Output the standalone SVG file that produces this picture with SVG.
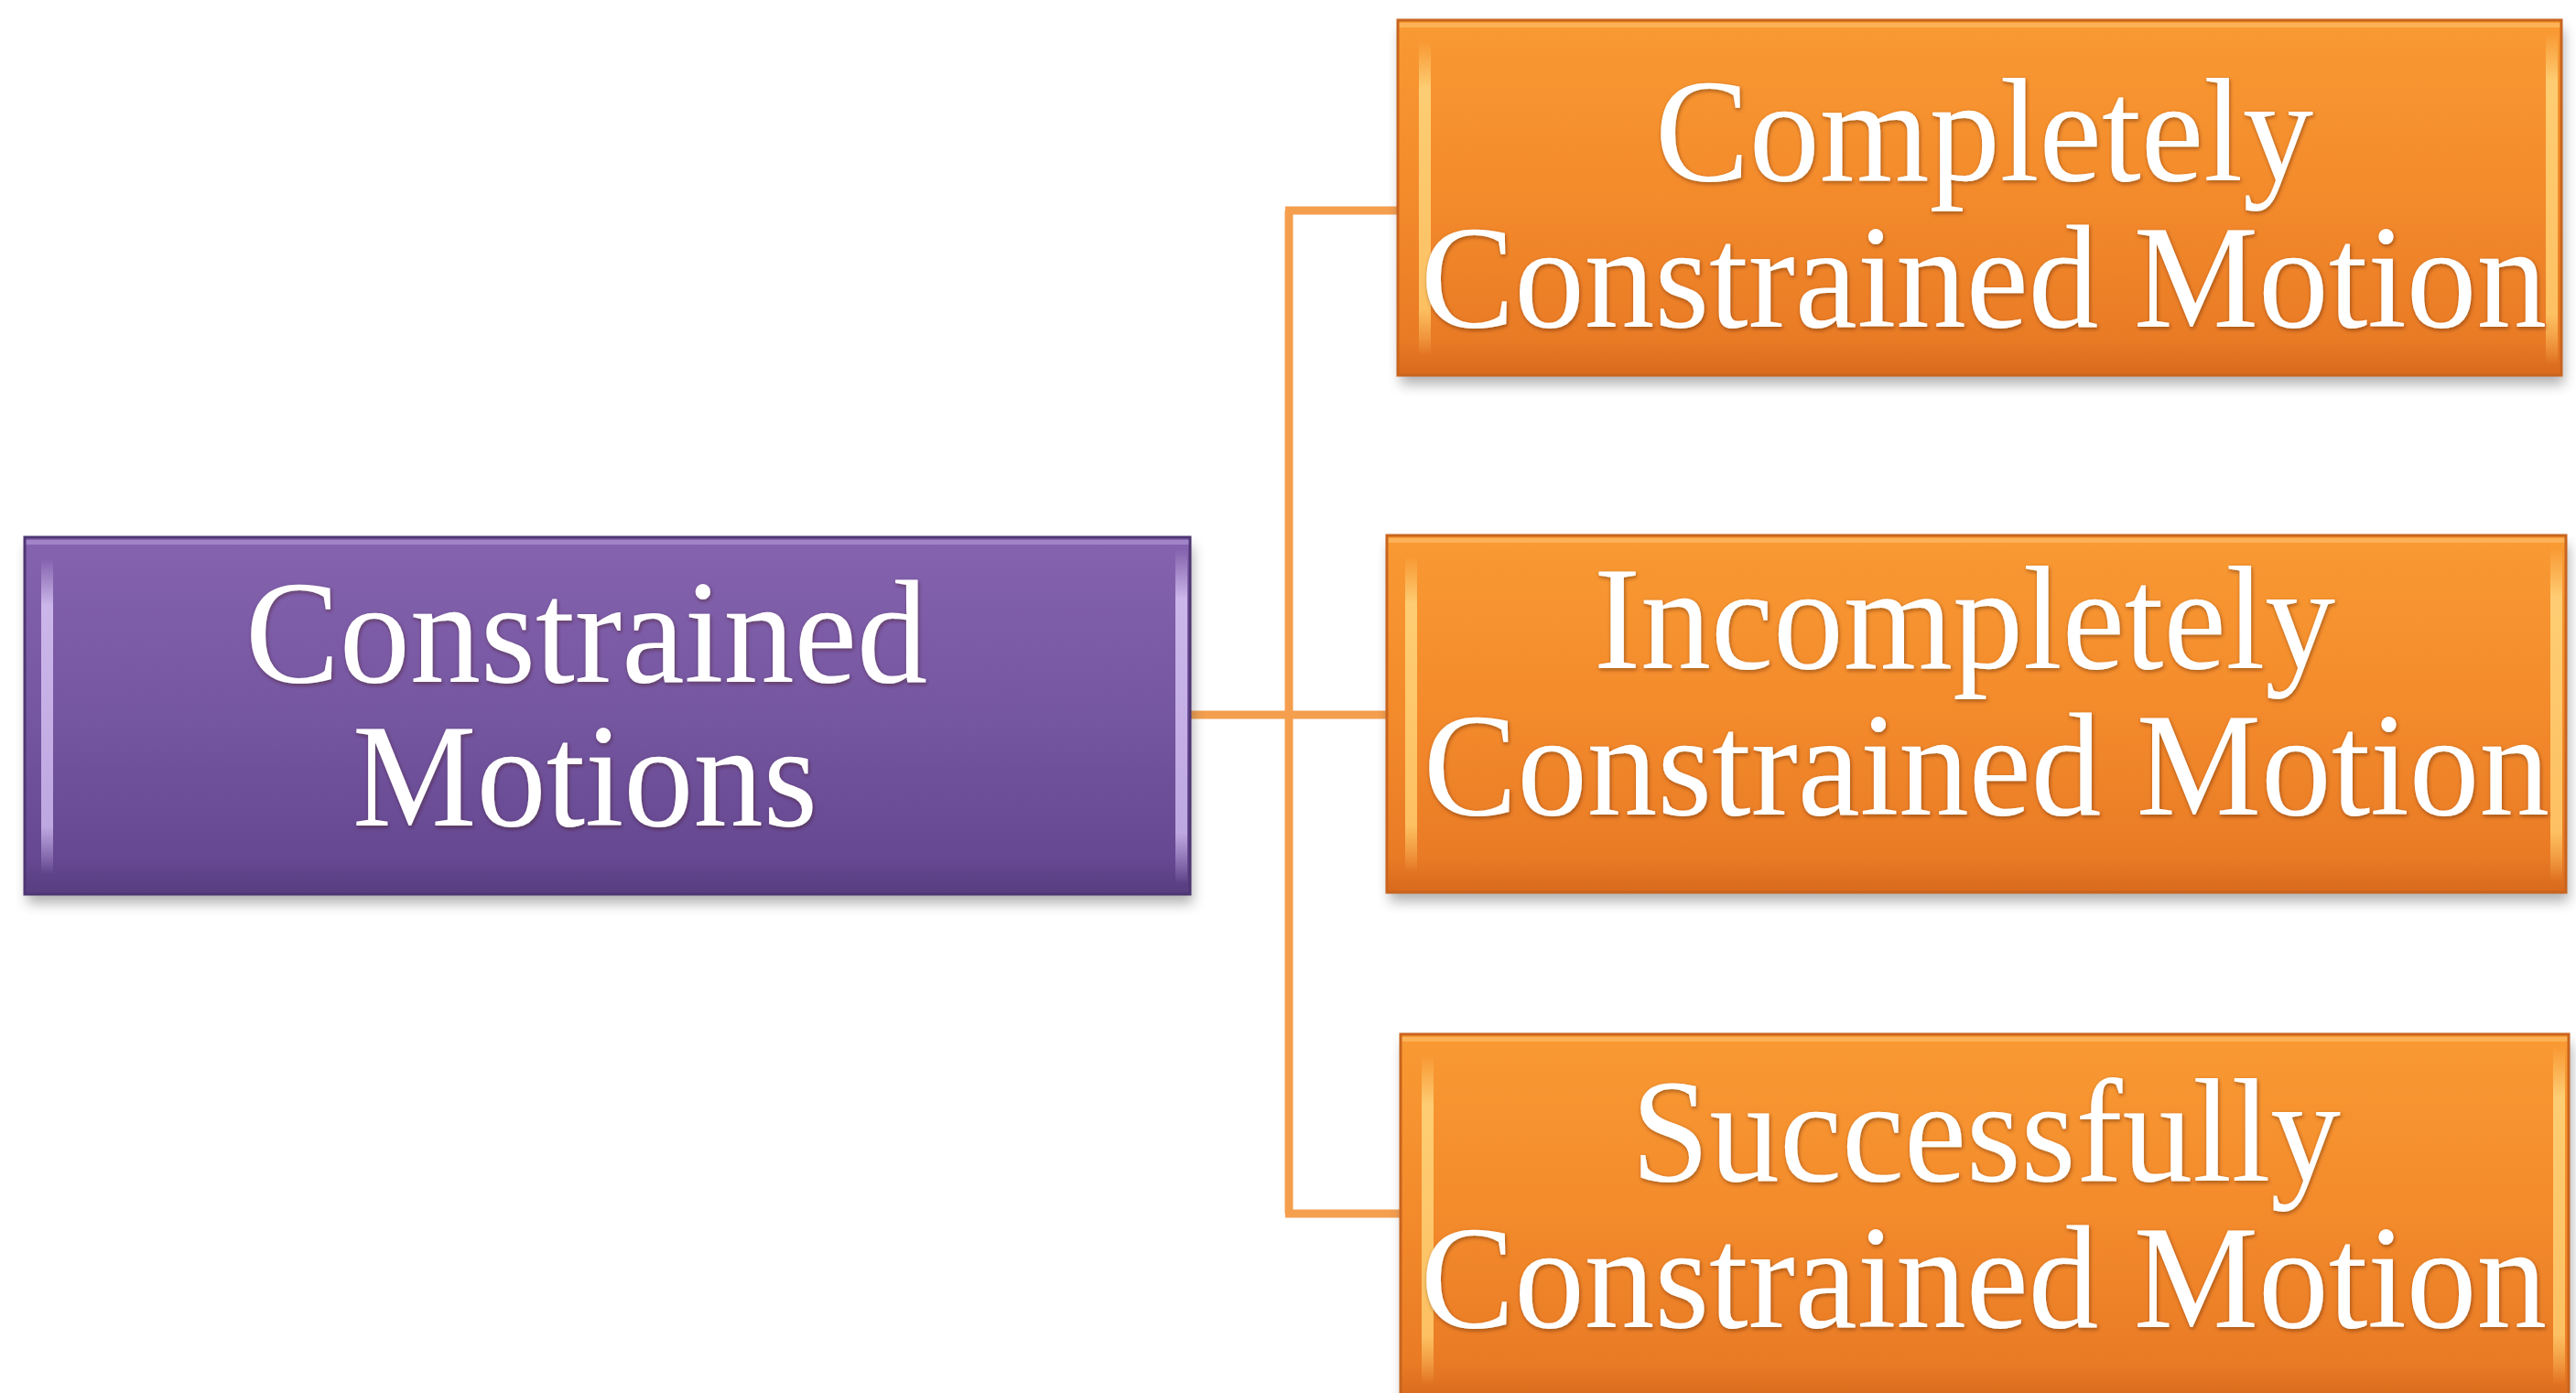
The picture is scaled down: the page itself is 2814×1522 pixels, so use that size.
<svg xmlns="http://www.w3.org/2000/svg" width="2814" height="1522" viewBox="0 0 2814 1522">
<defs>
<linearGradient id="gOr" x1="0" y1="0" x2="0" y2="1">
<stop offset="0" stop-color="#F99A33"/>
<stop offset="0.5" stop-color="#F38A2B"/>
<stop offset="0.9" stop-color="#E97B25"/>
<stop offset="1" stop-color="#D8691E"/>
</linearGradient>
<linearGradient id="gPu" x1="0" y1="0" x2="0" y2="1">
<stop offset="0" stop-color="#8563AF"/>
<stop offset="0.5" stop-color="#7556A0"/>
<stop offset="0.9" stop-color="#654891"/>
<stop offset="1" stop-color="#583D80"/>
</linearGradient>
<linearGradient id="gHiOr" x1="0" y1="0" x2="0" y2="1">
<stop offset="0" stop-color="#FFD37A" stop-opacity="0"/>
<stop offset="0.15" stop-color="#FFD37A" stop-opacity="0.9"/>
<stop offset="0.85" stop-color="#FFC869" stop-opacity="0.9"/>
<stop offset="1" stop-color="#FFC869" stop-opacity="0"/>
</linearGradient>
<linearGradient id="gHiPu" x1="0" y1="0" x2="0" y2="1">
<stop offset="0" stop-color="#D9C6F5" stop-opacity="0"/>
<stop offset="0.15" stop-color="#D9C6F5" stop-opacity="0.85"/>
<stop offset="0.85" stop-color="#CDB8EE" stop-opacity="0.85"/>
<stop offset="1" stop-color="#CDB8EE" stop-opacity="0"/>
</linearGradient>
<filter id="shadow" x="-5%" y="-10%" width="110%" height="130%">
<feGaussianBlur stdDeviation="7"/>
</filter>
<filter id="txt" x="-5%" y="-20%" width="110%" height="140%">
<feDropShadow dx="1" dy="2" stdDeviation="2" flood-color="#3a1e00" flood-opacity="0.45"/>
</filter>
</defs>
<style>
.lbl{font-family:"Liberation Serif","Times New Roman",serif;font-size:160px;fill:#FFFFFF;filter:url(#txt)}
.shd{fill:#555;opacity:0.45;filter:url(#shadow)}
.edgeO{fill:none;stroke:#C8641E;stroke-width:3}
.edgeP{fill:none;stroke:#4E3673;stroke-width:3}
.conn{fill:none;stroke:#F49E4E;stroke-width:9}
</style>
<rect width="2814" height="1522" fill="#FFFFFF"/>

<g id="connectors">
<path class="conn" d="M1300,781 H1515"/>
<path class="conn" d="M1408,230 V1326"/>
<path class="conn" d="M1404,230 H1527"/>
<path class="conn" d="M1404,1326 H1530"/>
</g>

<g id="node-constrained-motions">
<rect class="shd" x="30" y="597" width="1273" height="390"/>
<rect x="27" y="587" width="1273" height="390" fill="url(#gPu)"/>
<rect x="27" y="590" width="1273" height="5" fill="#B49BD8" opacity="0.6"/>
<rect x="45" y="610" width="13" height="345" fill="url(#gHiPu)"/>
<rect x="1284" y="600" width="13" height="365" fill="url(#gHiPu)"/>
<rect class="edgeP" x="27" y="587" width="1273" height="390"/>
<text class="lbl" x="268" y="745" textLength="745" lengthAdjust="spacingAndGlyphs">Constrained</text>
<text class="lbl" x="385" y="902" textLength="508" lengthAdjust="spacingAndGlyphs">Motions</text>
</g>

<g id="node-completely">
<rect class="shd" x="1530" y="32" width="1271" height="388"/>
<rect x="1527" y="22" width="1271" height="388" fill="url(#gOr)"/>
<rect x="1527" y="25" width="1271" height="5" fill="#FFC36E" opacity="0.6"/>
<rect x="1550" y="45" width="13" height="343" fill="url(#gHiOr)"/>
<rect x="2781" y="35" width="13" height="363" fill="url(#gHiOr)"/>
<rect class="edgeO" x="1527" y="22" width="1271" height="388"/>
<text class="lbl" x="1808" y="197" textLength="719" lengthAdjust="spacingAndGlyphs">Completely</text>
<text class="lbl" x="1552" y="357" textLength="1230" lengthAdjust="spacingAndGlyphs">Constrained Motion</text>
</g>

<g id="node-incompletely">
<rect class="shd" x="1518" y="595" width="1288" height="390"/>
<rect x="1515" y="585" width="1288" height="390" fill="url(#gOr)"/>
<rect x="1515" y="588" width="1288" height="5" fill="#FFC36E" opacity="0.6"/>
<rect x="1535" y="608" width="13" height="345" fill="url(#gHiOr)"/>
<rect x="2786" y="598" width="13" height="365" fill="url(#gHiOr)"/>
<rect class="edgeO" x="1515" y="585" width="1288" height="390"/>
<text class="lbl" x="1741" y="730" textLength="810" lengthAdjust="spacingAndGlyphs">Incompletely</text>
<text class="lbl" x="1555" y="890" textLength="1230" lengthAdjust="spacingAndGlyphs">Constrained Motion</text>
</g>

<g id="node-successfully">
<rect class="shd" x="1533" y="1140" width="1276" height="400"/>
<rect x="1530" y="1130" width="1276" height="400" fill="url(#gOr)"/>
<rect x="1530" y="1133" width="1276" height="5" fill="#FFC36E" opacity="0.6"/>
<rect x="1553" y="1153" width="13" height="360" fill="url(#gHiOr)"/>
<rect x="2789" y="1143" width="13" height="370" fill="url(#gHiOr)"/>
<rect class="edgeO" x="1530" y="1130" width="1276" height="400"/>
<text class="lbl" x="1782" y="1290" textLength="775" lengthAdjust="spacingAndGlyphs">Successfully</text>
<text class="lbl" x="1552" y="1450" textLength="1230" lengthAdjust="spacingAndGlyphs">Constrained Motion</text>
</g>
</svg>
